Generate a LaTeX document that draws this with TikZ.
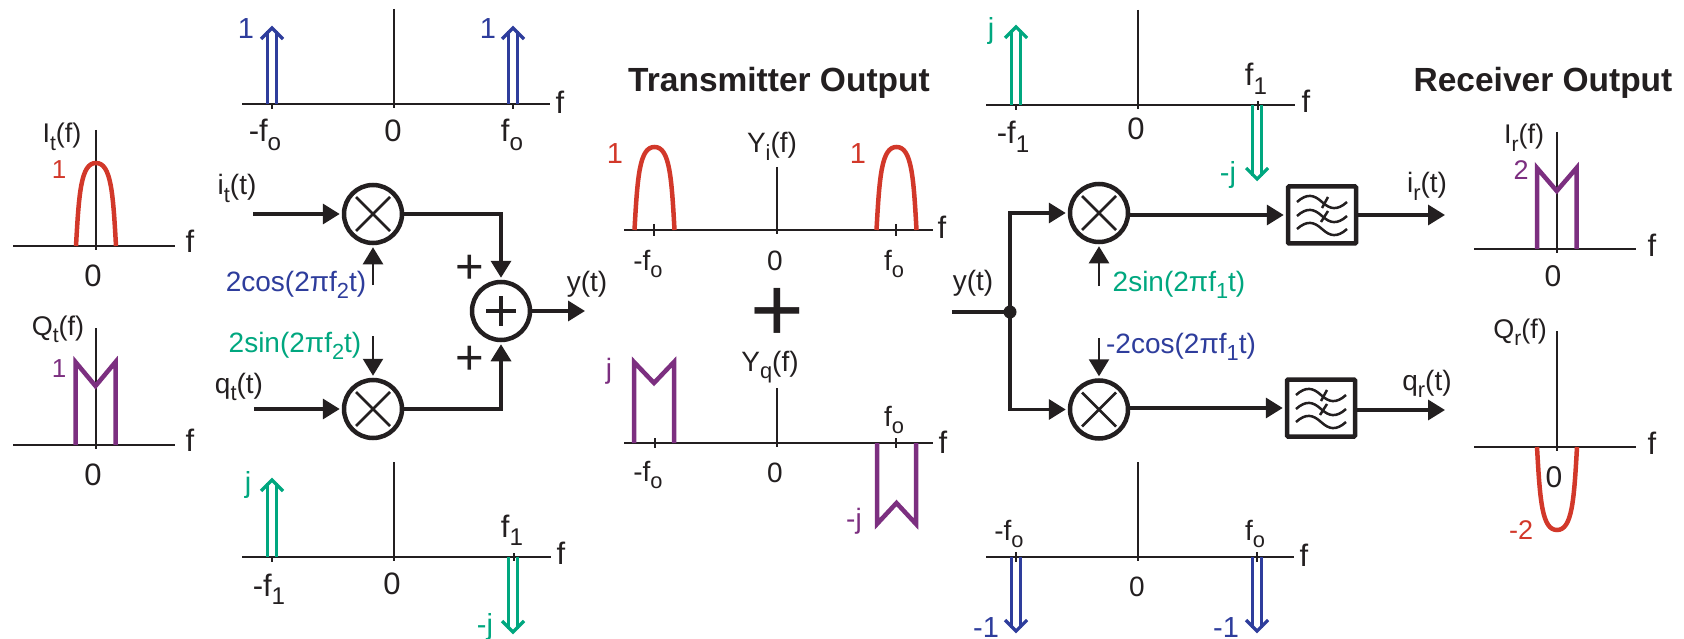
\documentclass[tikz,border=0pt]{standalone}
\usepackage{fontspec}
\setmainfont{Liberation Sans}
\usetikzlibrary{arrows.meta}
\definecolor{ink}{HTML}{231F20}
\definecolor{cblue}{HTML}{2E3D9C}
\definecolor{cgreen}{HTML}{00A77F}
\definecolor{cred}{HTML}{D2382A}
\definecolor{cpurple}{HTML}{7C2F80}
\newcommand\lo[1]{\raisebox{-.28em}{\scalebox{.78}{#1}}}
\newcommand\fz[1]{\fontsize{#1}{#1}\selectfont}
% axes: xleft xright y xvert ytop ybottom
\newcommand\plotaxes[6]{\draw[axline] (#1,#3) -- (#2,#3); \draw[axline] (#4,#5) -- (#4,#6);}
\newcommand\tick[3]{\draw[axline] (#1,#2) -- (#1,#3);}
% double impulse: x base tip sign(+1 up, -1 down) colour
\newcommand\impulse[5]{%
  \draw[#5,line width=3.2pt] (#1-4.3,#2) -- (#1-4.3,#3+#4*4) (#1+4.3,#2) -- (#1+4.3,#3+#4*4);
  \draw[#5,line width=3.2pt,miter limit=10] (#1-11,#3+#4*12) -- (#1,#3+#4*1) -- (#1+11,#3+#4*12);}
% rounded hump: left x, base, signed height
\newcommand\hump[3]{\draw[cred,line width=4.5pt] (#1,#2) .. controls (#1+3,#2-0.65*#3) and (#1+5,#2-#3) .. (#1+20,#2-#3) .. controls (#1+35,#2-#3) and (#1+37,#2-0.65*#3) .. (#1+40,#2);}
% M shape: left x, right x, base, top, notch
\newcommand\mshape[5]{\draw[cpurple,line width=4.5pt,miter limit=10] (#1,#3) -- (#1,#4) -- ({(#1+#2)/2},#5) -- (#2,#4) -- (#2,#3);}
\tikzset{
  axline/.style={ink,line width=2pt},
  sig/.style={ink,line width=3.5pt,-{Triangle[length=17pt,width=20pt]},shorten >=2pt},
  wire/.style={ink,line width=3.5pt},
  carr/.style={ink,line width=2.4pt,-{Triangle[length=17pt,width=20pt]},shorten >=2pt},
  lb/.style={inner sep=0pt,text=ink,text height=20pt,text depth=0pt,font=\fz{28}},
  ax/.style={lb,text height=22pt,font=\fz{31}},
  plusm/.style={lb,text height=32pt,font=\fz{49}},
  mixer/.style={circle,draw=ink,line width=4.5pt,minimum size=58pt,inner sep=0pt,fill=white,
    path picture={\draw[ink,line width=2.8pt] ([shift={(-17,-17)}]path picture bounding box.center) -- ([shift={(17,17)}]path picture bounding box.center) ([shift={(-17,17)}]path picture bounding box.center) -- ([shift={(17,-17)}]path picture bounding box.center);}},
  adder/.style={circle,draw=ink,line width=4.5pt,minimum size=58pt,inner sep=0pt,fill=white,
    path picture={\draw[ink,line width=3.5pt] ([shift={(-15,0)}]path picture bounding box.center) -- ([shift={(15,0)}]path picture bounding box.center) ([shift={(0,-15)}]path picture bounding box.center) -- ([shift={(0,15)}]path picture bounding box.center);}},
  filt/.style={rectangle,draw=ink,line width=4.5pt,minimum width=68pt,minimum height=57pt,inner sep=0pt,rounded corners=1pt,
    path picture={\begin{scope}[shift={(path picture bounding box.center)},ink,line width=2.5pt]
      \foreach \c in {-13,1,14}{\draw (-25,\c) .. controls (-15,\c-9) and (-8,\c-7) .. (0,\c) .. controls (8,\c+7) and (15,\c+9) .. (25,\c);}
      \draw (6,-18) -- (0,-7) (6,-4) -- (-1,7);
    \end{scope}}},
}
\begin{document}
\begin{tikzpicture}[x=1pt,y=-1pt]
\useasboundingbox (0,0) rectangle (1684,639);
% ---------- I_t
\plotaxes{13}{175}{246}{96}{130}{250}
\hump{76}{246}{83}
\node[lb,font=\fz{27}] (itf) at (62,133) {I\lo{t}(f)};
\node[lb,text=cred,font=\fz{26}] (it1) at (59,169) {1};
\node[ax] (itF) at (190,241) {f};
\node[ax] (it0) at (93,275) {0};
% ---------- Q_t
\plotaxes{13}{175}{445}{96}{328}{449}
\mshape{75.5}{115.5}{445}{362}{386}
\node[lb,font=\fz{27}] (qtf) at (58,325) {Q\lo{t}(f)};
\node[lb,text=cpurple,font=\fz{26}] (qt1) at (59,367) {1};
\node[ax] (qtF) at (190,440) {f};
\node[ax] (qt0) at (93,474) {0};
% ---------- top carrier (transmitter)
\plotaxes{242}{550}{104}{394}{9}{108}
\tick{272}{104}{109}\tick{513}{104}{109}
\impulse{272}{104}{27}{1}{cblue}
\impulse{513}{104}{27}{1}{cblue}
\node[ax,text=cblue,font=\fz{29}] (a1) at (246,28) {1};
\node[ax,text=cblue,font=\fz{29}] (a2) at (488,28) {1};
\node[ax] (a3) at (560,103) {f};
\node[ax] (a4) at (265,131) {-f\lo{o}};
\node[ax] (a5) at (393,131) {0};
\node[ax] (a6) at (512,131) {f\lo{o}};
% ---------- bottom carrier (transmitter)
\plotaxes{242}{551}{557}{394}{462}{561}
\tick{272}{557}{562}\tick{514}{553}{561}
\impulse{272}{557}{479}{1}{cgreen}
\impulse{513}{557}{633}{-1}{cgreen}
\node[ax,text=cgreen,font=\fz{29}] (b1) at (248,481) {j};
\node[ax,text=cgreen,font=\fz{29}] (b2) at (485,623) {-j};
\node[ax] (b3) at (561,553) {f};
\node[ax] (b4) at (269,585) {-f\lo{1}};
\node[ax] (b5) at (392,583) {0};
\node[ax] (b6) at (512,526) {f\lo{1}};
% ---------- transmitter block
\node[mixer] (m1) at (373,214) {};
\node[mixer] (m2) at (373,409) {};
\node[adder] (add) at (501,311) {};
\coordinate (i1) at (253,214);
\coordinate (q1) at (254,409);
\coordinate (c1) at (373,285);
\coordinate (c2) at (373,336);
\coordinate (yo) at (587,311);
\draw[sig] (i1) -- (m1.west);
\draw[sig] (q1) -- (m2.west);
\draw[carr] (c1) -- (m1.south);
\draw[carr] (c2) -- (m2.north);
\draw[sig] (m1.east) -| (add.north);
\draw[sig] (m2.east) -| (add.south);
\draw[sig] (add.east) -- (yo);
\node[lb] (l1) at (237,185) {i\lo{t}(t)};
\node[lb] (l2) at (239,383) {q\lo{t}(t)};
\node[lb,text=cblue] (l3) at (296,281) {2cos(2πf\lo{2}t)};
\node[lb,text=cgreen] (l4) at (295,342) {2sin(2πf\lo{2}t)};
\node[plusm] (p1) at (470,267) {+};
\node[plusm] (p2) at (470,358) {+};
\node[lb] (l5) at (587,281) {y(t)};
% ---------- Transmitter Output
\node[lb,text height=24pt,font=\fz{33.5}\bfseries] (tt) at (779,80) {Transmitter Output};
\plotaxes{624}{933}{230}{777}{167}{234}
\tick{654}{224}{236}\tick{896}{224}{236}
\hump{634.5}{230}{83}
\hump{876.5}{230}{83}
\node[lb,text=cred,font=\fz{29}] (y1) at (615,154) {1};
\node[lb,text=cred,font=\fz{29}] (y2) at (858,154) {1};
\node[lb] (y3) at (772,143) {Y\lo{i}(f)};
\node[ax] (y4) at (942,228) {f};
\node[lb] (y5) at (648,260) {-f\lo{o}};
\node[lb] (y6) at (775,260) {0};
\node[lb] (y7) at (894,260) {f\lo{o}};
\node[lb,text height=62pt,font=\fz{92}] (bigp) at (777,310) {+};
\plotaxes{624}{933}{443}{777}{388}{447}
\tick{655}{438}{448}\tick{896}{438}{448}
\mshape{634}{674}{443}{362}{383}
\mshape{877}{916}{443}{524}{503}
\node[lb,text=cpurple] (z1) at (609,368) {j};
\node[lb,text=cpurple] (z2) at (854,518) {-j};
\node[lb] (z3) at (770,361) {Y\lo{q}(f)};
\node[lb] (z4) at (894,416) {f\lo{o}};
\node[ax] (z5) at (943,442) {f};
\node[lb] (z6) at (648,471) {-f\lo{o}};
\node[lb] (z7) at (775,472) {0};
% ---------- top carrier (receiver)
\plotaxes{986}{1295}{105}{1138}{10}{109}
\tick{1016}{105}{110}\tick{1258}{101}{110}
\impulse{1016}{105}{26}{1}{cgreen}
\impulse{1257}{105}{180}{-1}{cgreen}
\node[ax,text=cgreen,font=\fz{29}] (d1) at (991,28) {j};
\node[ax,text=cgreen,font=\fz{29}] (d2) at (1228,172) {-j};
\node[ax] (d3) at (1306,102) {f};
\node[ax] (d4) at (1013,133) {-f\lo{1}};
\node[ax] (d5) at (1136,129) {0};
\node[ax] (d6) at (1256,75) {f\lo{1}};
% ---------- bottom carrier (receiver)
\plotaxes{986}{1294}{557}{1138}{462}{561}
\tick{1016}{552}{562}\tick{1257}{552}{562}
\impulse{1016}{557}{632}{-1}{cblue}
\impulse{1257}{557}{632}{-1}{cblue}
\node[lb] (e1) at (1009,530) {-f\lo{o}};
\node[lb] (e2) at (1255,530) {f\lo{o}};
\node[ax] (e3) at (1304,555) {f};
\node[lb] (e4) at (1137,586) {0};
\node[ax,text=cblue,font=\fz{29}] (e5) at (986,626) {-1};
\node[ax,text=cblue,font=\fz{29}] (e6) at (1226,626) {-1};
% ---------- receiver block
\node[mixer] (m3) at (1099,213) {};
\node[mixer] (m4) at (1099,409.5) {};
\node[filt] (f1) at (1322,215) {};
\node[filt] (f2) at (1321,408) {};
\node[circle,fill=ink,draw=ink,line width=1pt,minimum size=12pt,inner sep=0pt] (jn) at (1010,312) {};
\coordinate (yi) at (952,312);
\coordinate (c3) at (1099,286);
\coordinate (c4) at (1099,338);
\coordinate (ir) at (1447,215);
\coordinate (qr) at (1447,410);
\draw[wire] (yi) -- (jn);
\draw[sig] (jn.center) |- (m3.west);
\draw[sig] (jn.center) |- (m4.west);
\draw[carr] (c3) -- (m3.south);
\draw[carr] (c4) -- (m4.north);
\draw[sig] (m3.east |- f1.west) -- (f1.west);
\draw[sig] (m4.east |- f2.west) -- (f2.west);
\draw[sig] (f1.east) -- (ir);
\draw[sig] (f2.east |- qr) -- (qr);
\node[lb] (g1) at (973,280) {y(t)};
\node[lb,text=cgreen] (g2) at (1179,281) {2sin(2πf\lo{1}t)};
\node[lb,text=cblue] (g3) at (1181,343) {-2cos(2πf\lo{1}t)};
\node[lb] (g4) at (1427,183) {i\lo{r}(t)};
\node[lb] (g5) at (1427,380) {q\lo{r}(t)};
% ---------- Receiver Output
\node[lb,text height=24pt,font=\fz{33.5}\bfseries] (rt) at (1543,80) {Receiver Output};
\plotaxes{1474}{1636}{249}{1557}{132}{253}
\mshape{1537}{1576.5}{249}{168}{191}
\node[lb,font=\fz{27}] (h1) at (1524,134) {I\lo{r}(f)};
\node[lb,text=cpurple,font=\fz{27}] (h2) at (1521,170) {2};
\node[ax] (h3) at (1652,245) {f};
\node[lb,font=\fz{30}] (h4) at (1553,277) {0};
\plotaxes{1474}{1636}{447}{1557}{331}{451}
\hump{1537}{447}{-83}
\node[lb,font=\fz{27}] (k1) at (1520,328) {Q\lo{r}(f)};
\node[ax] (k2) at (1652,443) {f};
\node[lb,font=\fz{30}] (k3) at (1554,477) {0};
\node[lb,text=cred,font=\fz{27}] (k4) at (1521,529) {-2};
\end{tikzpicture}
\end{document}
